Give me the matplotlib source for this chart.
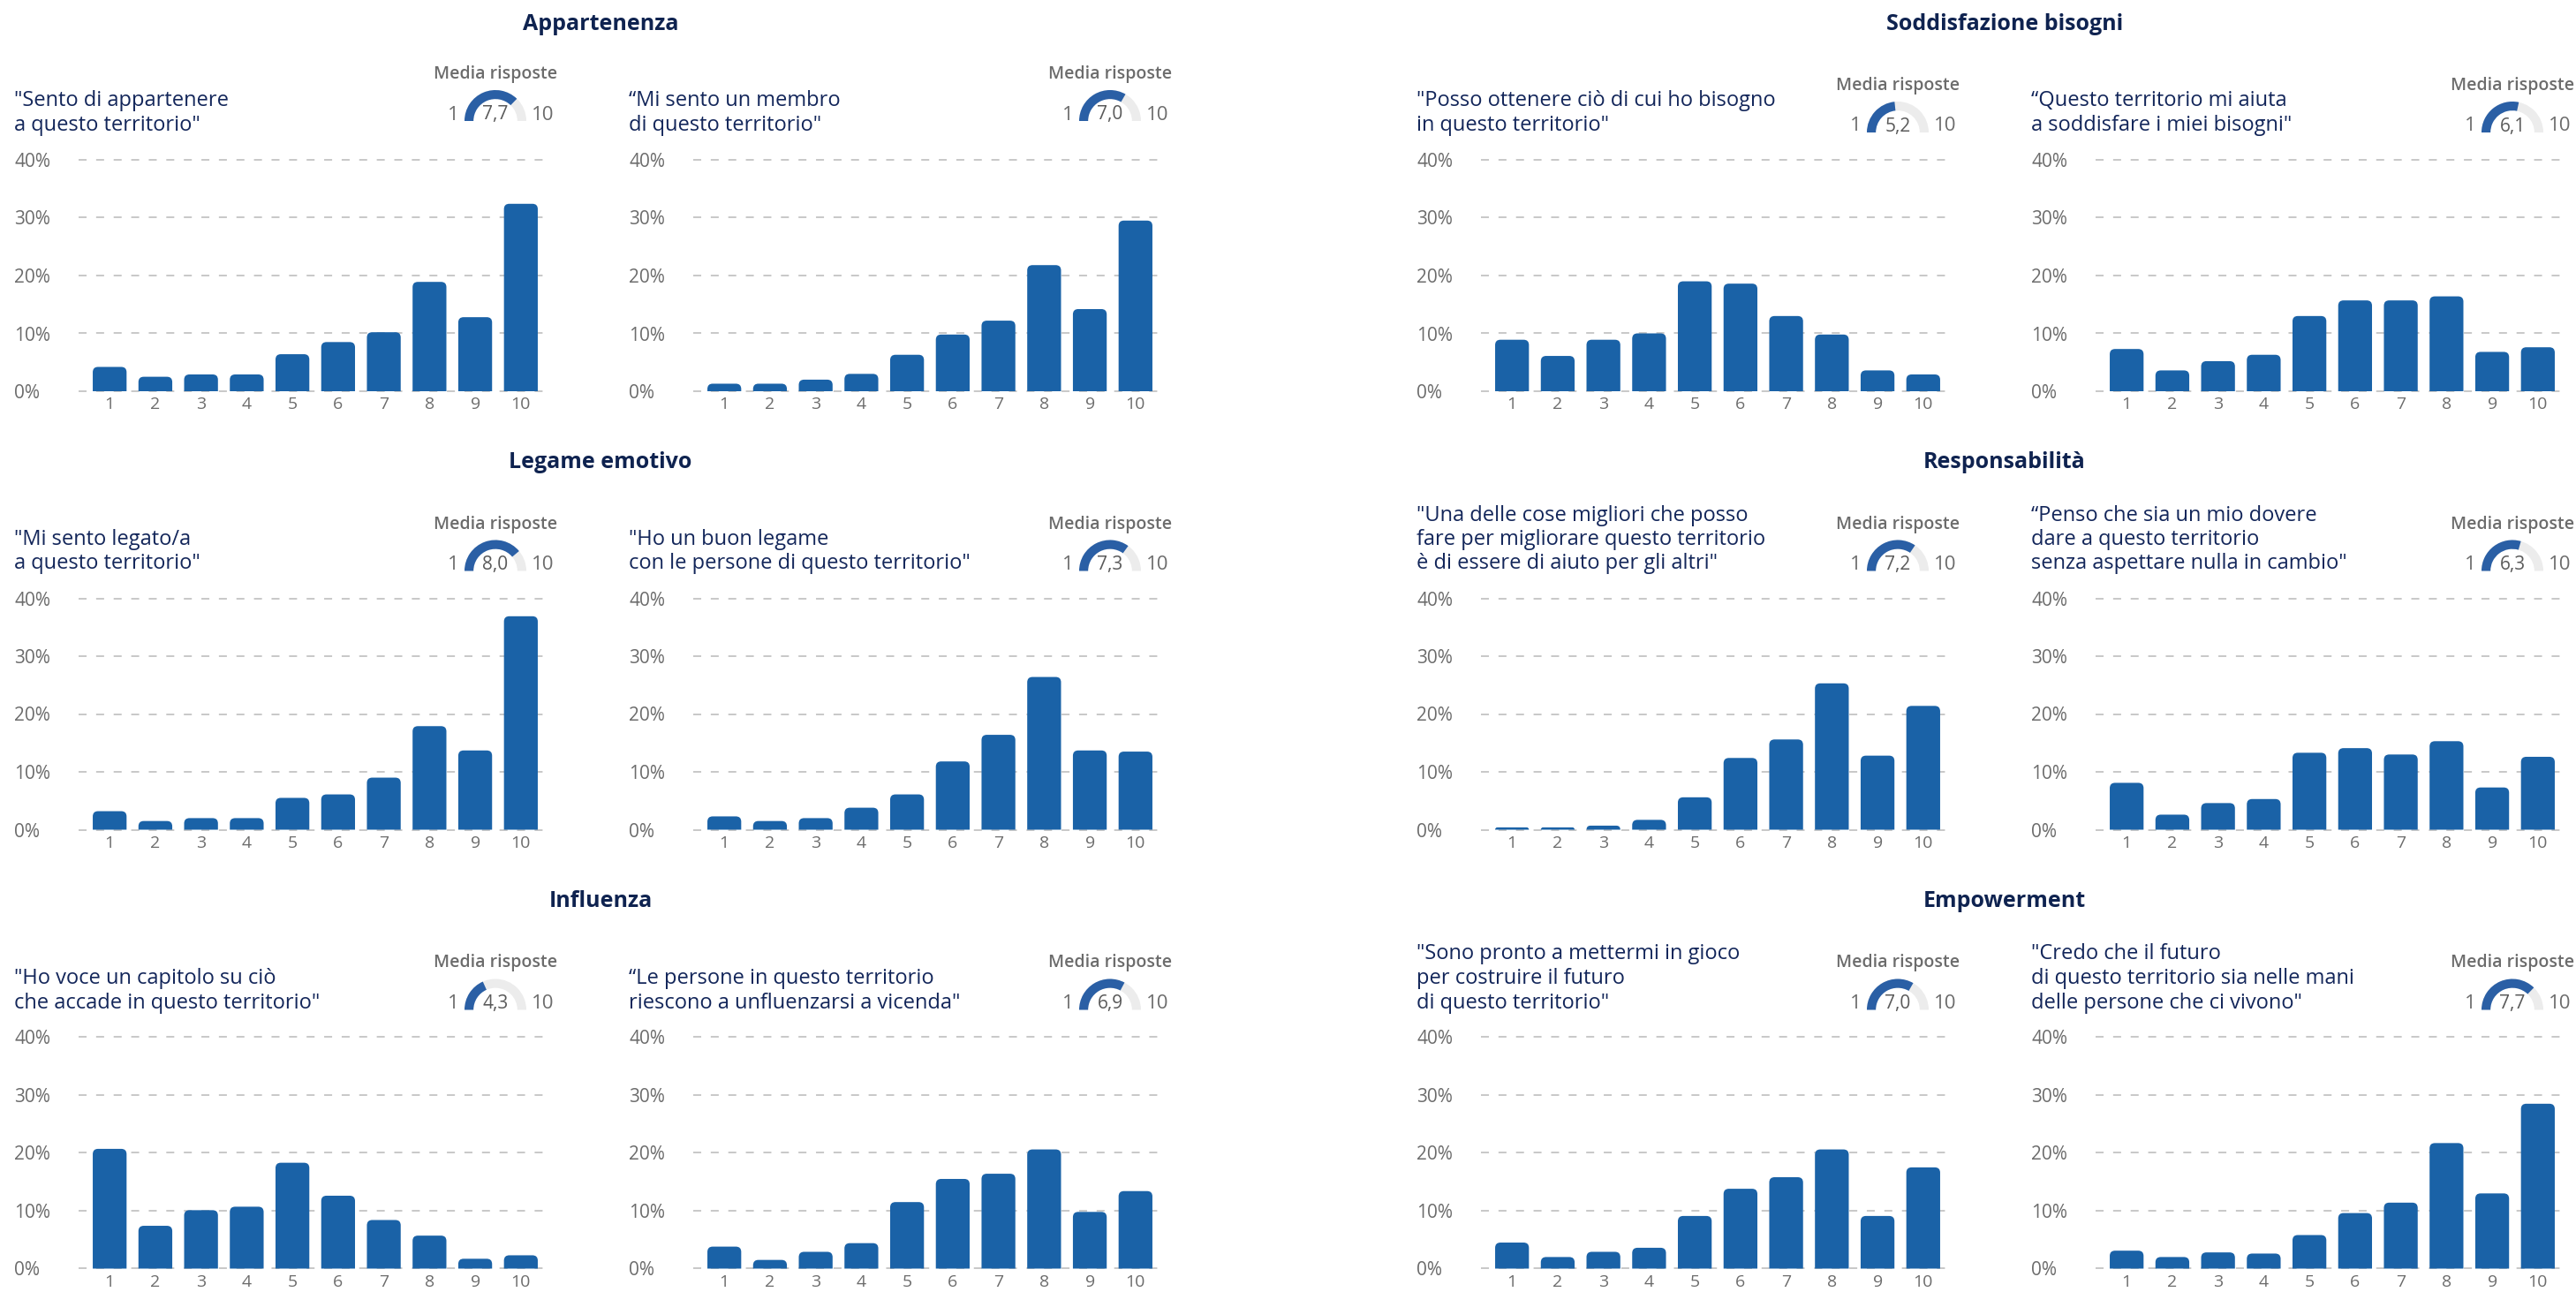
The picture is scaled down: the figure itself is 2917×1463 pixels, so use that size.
import numpy as np
import matplotlib.pyplot as plt
from matplotlib.patches import Wedge, PathPatch
from matplotlib.path import Path

plt.rcParams['font.family'] = ['Open Sans', 'DejaVu Sans']

# --- dati ---
punteggi = list(range(1, 11))
tick_y = [0, 10, 20, 30, 40]

sezioni = ['Appartenenza', 'Soddisfazione bisogni',
           'Legame emotivo', 'Responsabilità',
           'Influenza', 'Empowerment']

domande = [
    ['"Sento di appartenere', 'a questo territorio"'],
    ['“Mi sento un membro', 'di questo territorio"'],
    ['"Posso ottenere ciò di cui ho bisogno', 'in questo territorio"'],
    ['“Questo territorio mi aiuta', 'a soddisfare i miei bisogni"'],
    ['"Mi sento legato/a', 'a questo territorio"'],
    ['"Ho un buon legame', 'con le persone di questo territorio"'],
    ['"Una delle cose migliori che posso', 'fare per migliorare questo territorio',
     'è di essere di aiuto per gli altri"'],
    ['“Penso che sia un mio dovere', 'dare a questo territorio',
     'senza aspettare nulla in cambio"'],
    ['"Ho voce un capitolo su ciò', 'che accade in questo territorio"'],
    ['“Le persone in questo territorio', 'riescono a unfluenzarsi a vicenda"'],
    ['"Sono pronto a mettermi in gioco', 'per costruire il futuro',
     'di questo territorio"'],
    ['"Credo che il futuro', 'di questo territorio sia nelle mani',
     'delle persone che ci vivono"'],
]

# % di risposte per punteggio 1..10
appartenere = [4.2, 2.5, 2.9, 2.9, 6.4, 8.5, 10.2, 18.9, 12.8, 32.4]
membro = [1.3, 1.3, 2.0, 3.0, 6.3, 9.8, 12.2, 21.8, 14.2, 29.5]
ottenere = [8.9, 6.1, 8.9, 10.0, 19.0, 18.6, 13.0, 9.8, 3.6, 2.9]
aiuta = [7.3, 3.6, 5.2, 6.3, 13.0, 15.7, 15.7, 16.4, 6.8, 7.6]
legato = [3.2, 1.5, 2.0, 2.0, 5.5, 6.1, 9.0, 17.9, 13.7, 36.9]
buon_legame = [2.3, 1.5, 2.0, 3.8, 6.1, 11.8, 16.4, 26.4, 13.7, 13.5]
aiuto_altri = [0.4, 0.4, 0.7, 1.7, 5.6, 12.4, 15.6, 25.3, 12.8, 21.4]
dovere = [8.1, 2.6, 4.6, 5.3, 13.3, 14.1, 13.0, 15.3, 7.3, 12.6]
voce = [20.7, 7.4, 10.1, 10.7, 18.3, 12.6, 8.4, 5.7, 1.7, 2.3]
influenzarsi = [3.8, 1.5, 2.9, 4.4, 11.5, 15.5, 16.4, 20.6, 9.8, 13.4]
in_gioco = [4.5, 2.0, 2.9, 3.6, 9.1, 13.8, 15.8, 20.6, 9.1, 17.5]
futuro = [3.1, 2.0, 2.8, 2.6, 5.8, 9.6, 11.4, 21.7, 13.0, 28.5]

valori = [appartenere, membro, ottenere, aiuta, legato, buon_legame,
          aiuto_altri, dovere, voce, influenzarsi, in_gioco, futuro]

medie = [7.7, 7.0, 5.2, 6.1, 8.0, 7.3, 7.2, 6.3, 4.3, 6.9, 7.0, 7.7]

# --- stile / layout (pixel) ---
W, H = 2917, 1463
BLU = '#1a62a7'
BLU_G = '#2a5fa5'
NAVY = '#13265a'
GRIGIO = '#6c6c6c'

col_left = [89, 785, 1677, 2373]
row_zero = [443, 939.5, 1436.5]
AX_W = 536
PX = 6.55          # pixel per 1%
R = 35             # raggio gauge
alza = [-13, -13, 0, 0] + [0] * 8


def fx(x):
    return x / W


def fy(y):
    return 1 - y / H


def barra_arrotondata(x0, w, h, rx, ry):
    ry2 = min(ry, h)
    rx2 = rx * ry2 / ry
    x1 = x0 + w
    verts = [(x0, 0), (x0, h - ry2), (x0, h), (x0 + rx2, h),
             (x1 - rx2, h), (x1, h), (x1, h - ry2), (x1, 0), (x0, 0)]
    codes = [Path.MOVETO, Path.LINETO, Path.CURVE3, Path.CURVE3,
             Path.LINETO, Path.CURVE3, Path.CURVE3, Path.LINETO, Path.CLOSEPOLY]
    return Path(verts, codes)


fig = plt.figure(figsize=(W / 100, H / 100), dpi=100)

for i in range(12):
    r, c = i // 4, i % 4
    L = col_left[c]
    Z = row_zero[r]

    ax = fig.add_axes([fx(L), fy(Z + 0.3 * PX), AX_W / W, 41.3 * PX / H])
    ax.set_xlim(0.32, 10.68)
    ax.set_ylim(-0.3, 41)

    bars = ax.bar(punteggi, valori[i], width=0.74, color=BLU)
    rx = 6 * 10.36 / AX_W
    ry = 6 / PX
    for b in bars:
        p = barra_arrotondata(b.get_x(), b.get_width(), b.get_height(), rx, ry)
        ax.add_patch(PathPatch(p, fc=BLU, ec='none', zorder=2))
        b.remove()

    ax.set_yticks(tick_y)
    ax.set_yticklabels([f'{t}%' for t in tick_y])
    ax.set_xticks(punteggi)
    ax.set_xticklabels([str(p) for p in punteggi])
    ax.yaxis.grid(True, color='#c4c4c4', lw=1.3, ls=(0, (5, 6)))
    ax.set_axisbelow(True)
    for s in ax.spines.values():
        s.set_visible(False)
    ax.tick_params(axis='y', length=0, pad=52.5, labelsize=15, labelcolor=GRIGIO)
    ax.tick_params(axis='x', length=0, pad=3, labelsize=14, labelcolor=GRIGIO)
    for t in ax.get_yticklabels():
        t.set_horizontalalignment('left')

    # testo della domanda
    righe = domande[i]
    n = len(righe)
    for k, riga in enumerate(righe):
        y = Z - 301 - (n - 1 - k) * 27.5
        fig.text(fx(L - 73), fy(y), riga, ha='left', va='center',
                 fontsize=17, color=NAVY)

    # gauge media risposte
    cx = L + 472
    base = Z - 293 + alza[i]
    fig.text(fx(cx), fy(Z - 346 + alza[i]), 'Media risposte', ha='center',
             va='center', fontsize=14, color=GRIGIO, weight='semibold')
    axg = fig.add_axes([fx(cx - 1.1 * R), fy(base + 0.05 * R), 2.2 * R / W, 1.15 * R / H])
    axg.set_xlim(-1.1, 1.1)
    axg.set_ylim(-0.05, 1.1)
    axg.axis('off')
    frac = (medie[i] - 1) / 9
    axg.add_patch(Wedge((0, 0), 1, 0, 180, width=0.29, color='#ececec', lw=0))
    axg.add_patch(Wedge((0, 0), 1, 180 - frac * 180, 180, width=0.29, color=BLU_G, lw=0))
    fig.text(fx(cx - 48), fy(base - 7), '1', ha='center', va='center',
             fontsize=16, color=GRIGIO)
    fig.text(fx(cx + 54), fy(base - 7), '10', ha='center', va='center',
             fontsize=16, color=GRIGIO)
    fig.text(fx(cx), fy(base - 7), f'{medie[i]:.1f}'.replace('.', ','),
             ha='center', va='center', fontsize=15, color='#5a5a5a')

# titoli di sezione
for j, titolo in enumerate(sezioni):
    r, lato = j // 2, j % 2
    fig.text(fx(680 + lato * 1590), fy(row_zero[r] - 416), titolo, ha='center',
             va='center', fontsize=18, weight='bold', color='#0f2350')

fig.savefig('out.png', dpi=100)
